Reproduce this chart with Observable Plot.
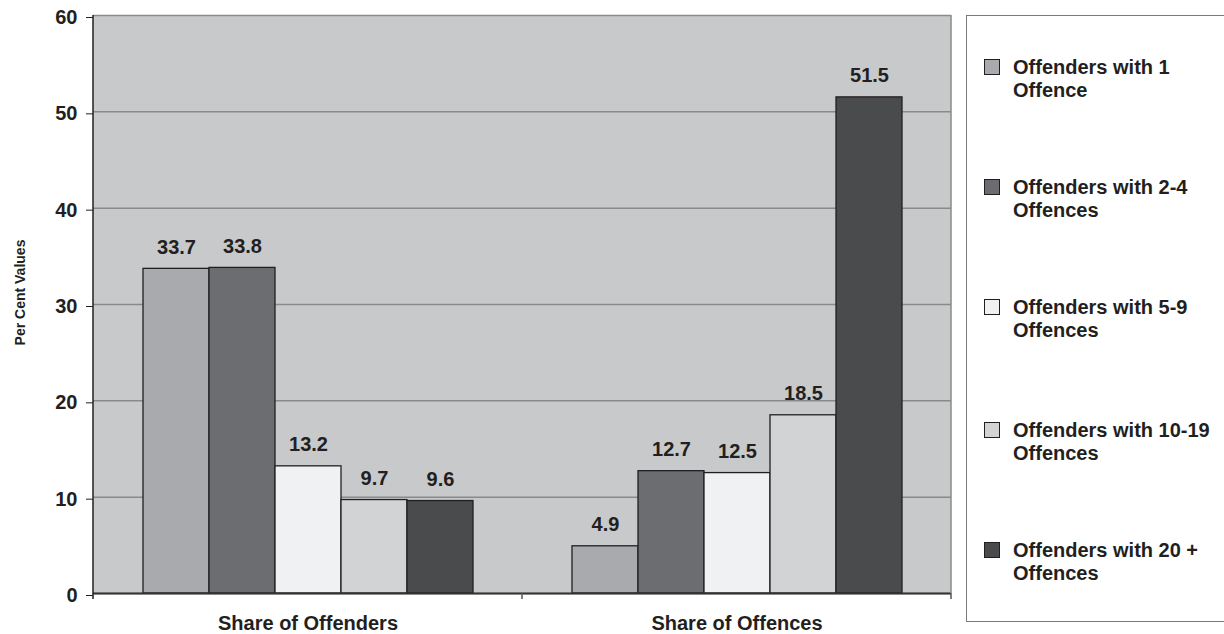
<!DOCTYPE html>
<html>
<head>
<meta charset="utf-8">
<script src="https://cdn.jsdelivr.net/npm/d3@7"></script>
<script src="https://cdn.jsdelivr.net/npm/@observablehq/plot@0.6"></script>
<style>
  html, body { margin: 0; padding: 0; background: #fff; }
  #wrap { position: relative; width: 1224px; height: 634px; overflow: hidden; font-family: 'Liberation Sans', Arial, sans-serif; font-weight: bold; color: #231f20; }
  #legend { position: absolute; left: 966px; top: 15px; width: 280px; height: 607px; border: 1.5px solid #7a7a7a; background: #fff; box-sizing: border-box; }
  .item { position: absolute; left: 0; width: 260px; }
  .sw { position: absolute; left: 17px; top: 3px; width: 14px; height: 14px; border: 1px solid #231f20; }
  .lab { position: absolute; left: 46px; top: 0; font-size: 20px; line-height: 23px; white-space: nowrap; }
</style>
</head>
<body>
<div id="wrap"><div id="chart"></div><div id="legend"></div></div>
<script>
const groups = ["Share of Offenders", "Share of Offences"];
const series = ["Offenders with 1 Offence", "Offenders with 2-4 Offences", "Offenders with 5-9 Offences", "Offenders with 10-19 Offences", "Offenders with 20 + Offences"];
const legendLines = [["Offenders with 1", "Offence"], ["Offenders with 2-4", "Offences"], ["Offenders with 5-9", "Offences"], ["Offenders with 10-19", "Offences"], ["Offenders with 20 +", "Offences"]];
const offendersShare = [33.7, 33.8, 13.2, 9.7, 9.6];
const offencesShare = [4.9, 12.7, 12.5, 18.5, 51.5];
const colors = ["#a9aaad", "#6c6d71", "#f0f1f3", "#d2d3d5", "#4a4b4d"];
const yTicks = [0, 10, 20, 30, 40, 50, 60];
const yLabel = "Per Cent Values";

const values = [offendersShare, offencesShare];
const data = groups.flatMap((g, gi) => series.map((s, si) => ({group: g, series: s, value: values[gi][si]})));

const ink = "#231f20";
const grid = "#8a8a8a";
const plotBg = "#c8c9cb";

const chart = Plot.plot({
  width: 1224,
  height: 634,
  marginLeft: 93,
  marginRight: 273,
  marginTop: 15,
  marginBottom: 41,
  style: {fontFamily: "'Liberation Sans', Arial, sans-serif", fontSize: "20px", fontWeight: "bold", color: ink, background: "transparent"},
  fx: {domain: groups, padding: 0, label: null},
  x: {domain: series, paddingInner: 0, paddingOuter: 0.75, axis: null},
  y: {domain: [0, 60], ticks: yTicks, label: null},
  color: {domain: series, range: colors},
  marks: [
    Plot.gridY(yTicks, {stroke: grid, strokeOpacity: 1, strokeWidth: 1.5}),
    Plot.barY(data, {fx: "group", x: "series", y: "value", fill: "series", stroke: ink, strokeWidth: 1.3}),
    Plot.text(data, {fx: "group", x: "series", y: "value", text: d => d.value.toFixed(1), dy: -21.5, fill: ink, fontSize: 20, fontWeight: "bold"}),
    Plot.ruleY([0], {stroke: "#333", strokeWidth: 2}),
    Plot.axisY(yTicks, {tickSize: 7, tickPadding: 9, label: null, dy: 2, stroke: ink, fill: ink}),
    Plot.text([yLabel], {frameAnchor: "left", facetAnchor: "left", textAnchor: "middle", dx: -73, dy: -12, rotate: -90, fontSize: 14, fontWeight: "bold", fill: ink}),
    Plot.axisFx({anchor: "bottom", tickSize: 0, tickPadding: 22, label: null, fill: ink})
  ]
});

document.getElementById("chart").appendChild(chart);

// plot-area background, borders and category boundary ticks
const fx = chart.scale("fx");
const y = chart.scale("y");
const svg = d3.select(chart);
const y0 = y.apply(0);
const yTop = y.apply(yTicks[yTicks.length - 1]);
const xLeft = fx.apply(groups[0]);
const xRight = fx.apply(groups[groups.length - 1]) + fx.bandwidth;
svg.insert("rect", ":first-child")
  .attr("x", xLeft).attr("y", yTop).attr("width", xRight - xLeft).attr("height", y0 - yTop)
  .attr("fill", plotBg);
svg.append("line").attr("x1", xRight).attr("x2", xRight).attr("y1", yTop).attr("y2", y0)
  .attr("stroke", grid).attr("stroke-width", 1.5);
svg.append("line").attr("x1", xLeft).attr("x2", xLeft).attr("y1", yTop).attr("y2", y0 + 6)
  .attr("stroke", ink).attr("stroke-width", 1.5);
groups.forEach(g => {
  const xe = fx.apply(g) + fx.bandwidth;
  svg.append("line").attr("x1", xe).attr("x2", xe).attr("y1", y0).attr("y2", y0 + 6)
    .attr("stroke", "#555").attr("stroke-width", 1.5);
});

// legend
const legend = d3.select("#legend");
const itemTops = [40, 160, 280, 403, 523];
series.forEach((s, i) => {
  const it = legend.append("div").attr("class", "item").style("top", itemTops[i] + "px");
  it.append("div").attr("class", "sw").style("background", colors[i]);
  it.append("div").attr("class", "lab").html(legendLines[i].join("<br>"));
});
</script>
</body>
</html>
